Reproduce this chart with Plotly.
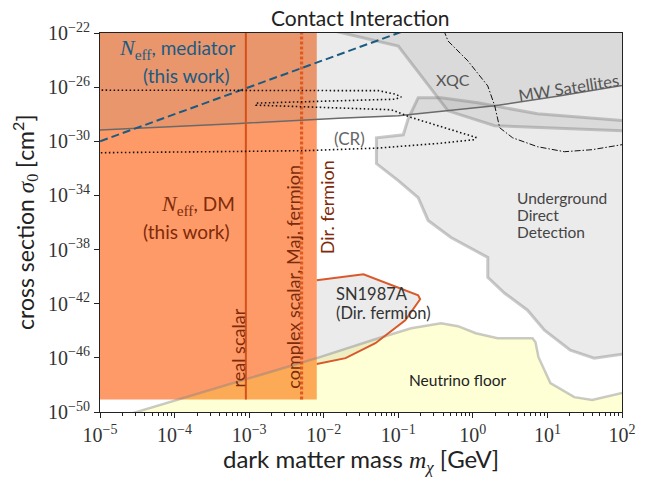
import numpy as np
import plotly.graph_objects as go

# ---------------- data (log10 values) ----------------
# N_eff (DM) excluded region: masses below m_max, above sigma_min
neff_dm_logm_max = -2.093
neff_dm_logsig_min = -49.07
real_scalar_logm = -3.044
complex_scalar_logm = -2.297

# N_eff mediator bound (dashed)
med_logm = [-5.3, -0.9]
med_logsig = [-30.6, -21.8]

# MW satellites line
mw_logm = [-5.3, -5.0, -3.133, -1.8, -1.0, 0.293, 1.133, 2.0, 2.3]
mw_logsig = [-29.2, -29.17, -28.68, -28.29, -28.12, -27.38, -26.68, -25.88, -25.6]

# XQC lower boundary
xqc_logm = [-1.9, -1.0, -0.333, 0.293, 2.0, 2.3]
xqc_logsig = [-21.8, -22.96, -27.75, -28.85, -29.22, -29.27]

# Underground direct detection outline
dd_logm = [2.3, 0.867, 0.067, -0.427, -0.733, -0.867, -0.933, -1.293, -1.293,
           -1.0, -0.733, -0.6, -0.293, 0.2, 0.2, 0.427, 0.733, 0.96, 1.307, 1.627, 2.0, 2.3]
dd_logsig = [-28.6, -27.97, -27.16, -26.79, -26.79, -28.34, -29.52, -29.74, -31.65,
             -32.91, -34.16, -35.85, -37.11, -38.58, -40.05, -41.23, -42.48, -43.96,
             -45.43, -46.02, -45.73, -45.6]

# Cosmic-ray (CR) bound (dotted)
cr_logm = [-5.3, -1.267, -1.04, -0.96, -1.04, -2.907, -2.907, -1.093, -0.827, -0.467,
           0.04, 0.027, -0.467, -1.267, -2.24, -3.133, -5.0, -5.3]
cr_logsig = [-26.22, -26.26, -26.52, -26.72, -26.89, -27.18, -27.33, -27.67, -28.24, -28.85,
             -29.71, -29.88, -30.16, -30.50, -30.69, -30.75, -30.84, -30.86]

# dash-dot constraint
dd2_logm = [-0.39, -0.333, -0.067, 0.2, 0.293, 0.36, 0.533, 0.867, 1.227, 1.6, 2.0, 2.3]
dd2_logsig = [-21.8, -22.59, -24.06, -25.91, -27.38, -29.0, -29.74, -30.40, -30.77, -30.62, -30.25, -30.0]

# SN1987A (Dirac fermion)
sn_logm = [-2.093, -1.467, -0.733, -0.707, -0.907, -1.307, -1.707, -2.093]
sn_logsig = [-40.27, -39.83, -41.38, -41.67, -43.22, -44.92, -46.02, -46.46]

# Neutrino floor upper boundary
nu_logm = [-4.8, -4.507, -2.093, -1.267, -0.827, -0.427, -0.2, 0.04, 0.333, 0.8, 0.84,
           0.88, 1.04, 1.36, 1.6, 2.0, 2.3]
nu_logsig = [-50.48, -50.0, -46.02, -44.55, -43.81, -43.44, -43.66, -44.18, -44.55, -44.55,
             -44.84, -45.95, -47.86, -48.90, -49.12, -48.60, -48.4]

xtick_vals = [1e-5, 1e-4, 1e-3, 1e-2, 1e-1, 1e0, 1e1, 1e2]
xtick_text = ["10<sup>−5</sup>", "10<sup>−4</sup>", "10<sup>−3</sup>", "10<sup>−2</sup>",
              "10<sup>−1</sup>", "10<sup>0</sup>", "10<sup>1</sup>", "10<sup>2</sup>"]
ytick_vals = [1e-22, 1e-26, 1e-30, 1e-34, 1e-38, 1e-42, 1e-46, 1e-50]
ytick_text = ["10<sup>−22</sup>", "10<sup>−26</sup>", "10<sup>−30</sup>", "10<sup>−34</sup>",
              "10<sup>−38</sup>", "10<sup>−42</sup>", "10<sup>−46</sup>", "10<sup>−50</sup>"]

# ---------------- figure ----------------
def p(v):
    return list(10.0 ** np.asarray(v, dtype=float))

GREY_FILL = "rgba(128,128,128,0.16)"
GREY_EDGE = "rgba(128,128,128,0.42)"
ORANGE = "#fd9a68"
LINE_OR = "#d4521a"
BROWN = "#7f2a08"
BLUE = "#1b5b83"
SANS = "Lato"
SERIF = "Liberation Serif"

fig = go.Figure()

def poly(xs, ys, fill, line_color=None, width=0, dash=None):
    fig.add_trace(go.Scatter(
        x=p(xs), y=p(ys), mode="lines", fill="toself", fillcolor=fill,
        line=dict(color=line_color if line_color else "rgba(0,0,0,0)", width=width, dash=dash),
        hoverinfo="skip", showlegend=False))

def line(xs, ys, color, width, dash=None):
    fig.add_trace(go.Scatter(
        x=p(xs), y=p(ys), mode="lines",
        line=dict(color=color, width=width, dash=dash),
        hoverinfo="skip", showlegend=False))

# N_eff DM region (orange)
poly([-5.3, neff_dm_logm_max, neff_dm_logm_max, -5.3],
     [neff_dm_logsig_min, neff_dm_logsig_min, -20, -20], ORANGE)

# Underground direct detection
poly(dd_logm, dd_logsig, GREY_FILL, GREY_EDGE, 3)

# XQC
poly(xqc_logm + [2.3, -1.9], xqc_logsig + [-20, -20], GREY_FILL)
line(xqc_logm, xqc_logsig, GREY_EDGE, 3)

# MW satellites region
poly(mw_logm + [2.3, -5.3], mw_logsig + [-20, -20], GREY_FILL)

# SN1987A fill
poly(sn_logm, sn_logsig, GREY_FILL)

# Neutrino floor
poly(nu_logm + [2.3, -4.8], nu_logsig + [-52, -52], "rgba(255,255,0,0.16)")
line(nu_logm, nu_logsig, GREY_EDGE, 2.5)

# SN1987A outline
line(sn_logm, sn_logsig, "#d9592a", 2)

# MW satellites line
line(mw_logm, mw_logsig, "#6a6a6a", 1.5)

# vertical lines for particle types
line([real_scalar_logm, real_scalar_logm], [neff_dm_logsig_min, -21], LINE_OR, 2)
line([complex_scalar_logm, complex_scalar_logm], [neff_dm_logsig_min, -21], "#e05a20", 3.2, "3px,2px")

# mediator (dashed)
line(med_logm, med_logsig, BLUE, 2, "8px,4px")

# CR (dotted)
line(cr_logm, cr_logsig, "#111111", 1.6, "1.5px,2.5px")

# dash-dot curve
line(dd2_logm, dd2_logsig, "#111111", 1, "6px,2px,1.5px,2px")

# ---------------- text ----------------
# page body has an 8px offset; the plot area sits at screen (100, 32)
OFF = 8
L, T, W, H = 100, 32, 525, 380
FIG_W, FIG_H = 648 - OFF, 484 - OFF

def px(x, y):
    return (x - L) / W, (T + H - y) / H

def ann(text, x, y, size=16, color="#333", xanchor="center", yanchor="middle", angle=0, font=SANS):
    xx, yy = px(x, y)
    fig.add_annotation(text=text, x=xx, y=yy, xref="paper", yref="paper", showarrow=False,
                       xanchor=xanchor, yanchor=yanchor, textangle=angle,
                       font=dict(family=font, size=size, color=color))

neff = '<span style="font-family:Liberation Serif;font-size:22px"><i>N</i><sub>eff</sub></span>'
ann("Contact Interaction", 362, 16, size=21, color="#222")
ann(neff + ", mediator", 238, 48, size=19, color=BLUE, xanchor="right")
ann("(this work)", 187, 75, size=19, color=BLUE)
ann(neff + ", DM", 238, 204, size=19, color=BROWN, xanchor="right")
ann("(this work)", 187, 231, size=19, color=BROWN)
ann("real scalar", 238.5, 347.5, size=18, color=BROWN, angle=-90)
ann("complex scalar, Maj. fermion", 294, 276.5, size=18, color=BROWN, angle=-90)
ann("Dir. fermion", 328.5, 206.5, size=18, color=BROWN, angle=-90)
ann("XQC", 455, 79, size=16, color="#555")
ann("MW Satellites", 571, 87, size=16.5, color="#555", angle=-9)
ann("(CR)", 351, 138, size=17, color="#666")
ann("Underground", 517, 197, size=15.5, color="#444", xanchor="left")
ann("Direct", 517, 214.5, size=15.5, color="#444", xanchor="left")
ann("Detection", 517, 232, size=15.5, color="#444", xanchor="left")
ann("SN1987A", 335, 293.5, size=16.5, color="#333", xanchor="left")
ann("(Dir. fermion)", 335, 313, size=16.5, color="#333", xanchor="left")
ann("Neutrino floor", 460, 380, size=15.5, color="#222")
ann('dark matter mass <span style="font-family:Liberation Serif"><i>m</i><sub><i>χ</i></sub></span> [GeV]',
    363, 461, size=24, color="#222")
ann('cross section <span style="font-family:Liberation Serif"><i>σ</i><sub>0</sub></span> [cm<sup>2</sup>]',
    24, 222, size=23, color="#222", angle=-90)

minor_x = [k * 10.0 ** n for n in range(-5, 2) for k in range(2, 10)]

fig.update_layout(
    width=FIG_W, height=FIG_H,
    margin=dict(l=L - OFF, r=FIG_W - (L - OFF) - W, t=T - OFF, b=FIG_H - (T - OFF) - H),
    plot_bgcolor="white", paper_bgcolor="white",
    showlegend=False,
    xaxis=dict(type="log", range=[-5, 2], showgrid=False, zeroline=False,
               showline=True, linecolor="#222", linewidth=1, mirror=True,
               ticks="outside", ticklen=5, tickcolor="#222",
               tickmode="array", tickvals=xtick_vals, ticktext=xtick_text,
               tickfont=dict(family=SERIF, size=20, color="#333"),
               minor=dict(tickmode="array", tickvals=minor_x, ticks="outside", ticklen=3,
                          tickcolor="#222", showgrid=False)),
    yaxis=dict(type="log", range=[-50, -22], showgrid=False, zeroline=False,
               showline=True, linecolor="#222", linewidth=1, mirror=True,
               ticks="outside", ticklen=5, tickcolor="#222",
               tickmode="array", tickvals=ytick_vals, ticktext=ytick_text,
               tickfont=dict(family=SERIF, size=20, color="#333")),
)

fig.write_html("out.html", config={"displayModeBar": False})
